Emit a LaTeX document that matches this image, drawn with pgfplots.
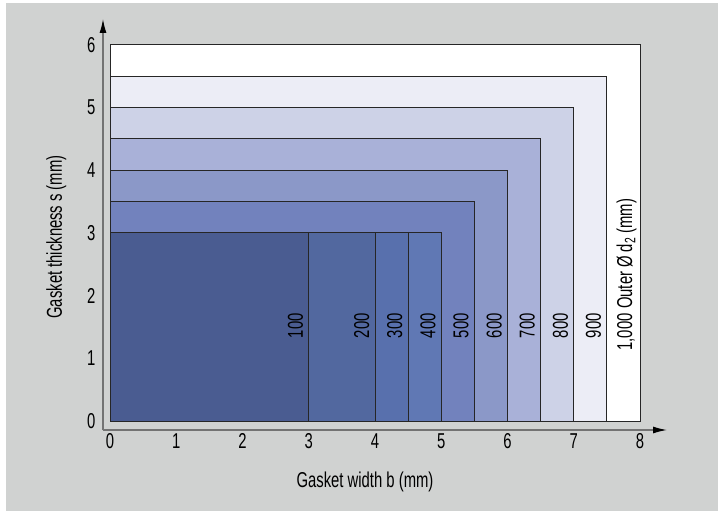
\documentclass[border=0pt]{standalone}
\usepackage{fontspec}
\setmainfont{Liberation Sans}[FakeStretch=0.69]
\usepackage{pgfplots}
\pgfplotsset{compat=1.18}
\usetikzlibrary{arrows.meta}
\definecolor{bggray}{HTML}{D0D2D1}
\definecolor{cA}{HTML}{4A5C91}
\definecolor{cB}{HTML}{52689F}
\definecolor{cC}{HTML}{5870AD}
\definecolor{cD}{HTML}{6078B4}
\definecolor{cE}{HTML}{7282BD}
\definecolor{cF}{HTML}{8B98C8}
\definecolor{cG}{HTML}{A9B1D8}
\definecolor{cH}{HTML}{CDD2E7}
\definecolor{cI}{HTML}{ECEDF6}
\begin{document}
\begin{tikzpicture}[font=\fontsize{21.5bp}{26bp}\selectfont]
\useasboundingbox (-110bp,-92bp) rectangle (608bp,421bp);
\fill[bggray] (-104bp,-90bp) rectangle (608bp,418bp);
\begin{axis}[
  at={(0,0)}, anchor=origin,
  scale only axis, width=530bp, height=376bp,
  xmin=0, xmax=8, ymin=0, ymax=6,
  axis line style={draw=none},
  major tick length=0pt,
  xtick={0,1,...,8}, ytick={0,1,...,6},
  /pgf/number format/assume math mode=true,
  tick label style={font=\fontsize{21.5bp}{26bp}\selectfont},
  xticklabel style={anchor=north, yshift=-9bp},
  yticklabel style={anchor=east, xshift=-11bp},
  clip=false,
]
\addplot[fill=white, draw=black!85, line width=1bp] coordinates {(0,0) (0,6) (8,6) (8,0)} -- cycle;
\addplot[fill=cI, draw=black!85, line width=1bp] coordinates {(0,0) (0,5.5) (7.5,5.5) (7.5,0)} -- cycle;
\addplot[fill=cH, draw=black!85, line width=1bp] coordinates {(0,0) (0,5) (7,5) (7,0)} -- cycle;
\addplot[fill=cG, draw=black!85, line width=1bp] coordinates {(0,0) (0,4.5) (6.5,4.5) (6.5,0)} -- cycle;
\addplot[fill=cF, draw=black!85, line width=1bp] coordinates {(0,0) (0,4) (6,4) (6,0)} -- cycle;
\addplot[fill=cE, draw=black!85, line width=1bp] coordinates {(0,0) (0,3.5) (5.5,3.5) (5.5,0)} -- cycle;
\addplot[fill=cD, draw=black!85, line width=1bp] coordinates {(0,0) (0,3) (5,3) (5,0)} -- cycle;
\addplot[fill=cC, draw=black!85, line width=1bp] coordinates {(0,0) (0,3) (4.5,3) (4.5,0)} -- cycle;
\addplot[fill=cB, draw=black!85, line width=1bp] coordinates {(0,0) (0,3) (4,3) (4,0)} -- cycle;
\addplot[fill=cA, draw=black!85, line width=1bp] coordinates {(0,0) (0,3) (3,3) (3,0)} -- cycle;
\foreach \xx/\lab in {3/100,4/200,4.5/300,5/400,5.5/500,6/600,6.5/700,7/800,7.5/900}{
  \edef\temp{\noexpand\node[xshift=-6bp, rotate=90, anchor=base east, inner sep=0pt] at (axis cs:\xx,1.72) {\lab};}
  \temp
}
\node[xshift=-8bp, rotate=90, anchor=base east, inner sep=0pt] at (axis cs:8,1.72) {1,000};
\node[xshift=-8bp, rotate=90, anchor=base west, inner sep=0pt] at (axis cs:8,1.72) {\ Outer Ø d\textsubscript{2} (mm)};
\end{axis}
\draw[gray!90!black, line width=1.3bp, -{Latex[length=14bp,width=7bp,color=black]}] (-7bp,-9bp) -- (557bp,-9bp);
\draw[gray!90!black, line width=1.3bp, -{Latex[length=14bp,width=7bp,color=black]}] (-7bp,-9bp) -- (-7bp,402bp);
\node[anchor=base] at (255bp,-66bp) {Gasket width b (mm)};
\node[rotate=90, anchor=base] at (-48bp,184bp) {Gasket thickness s (mm)};
\end{tikzpicture}
\end{document}
